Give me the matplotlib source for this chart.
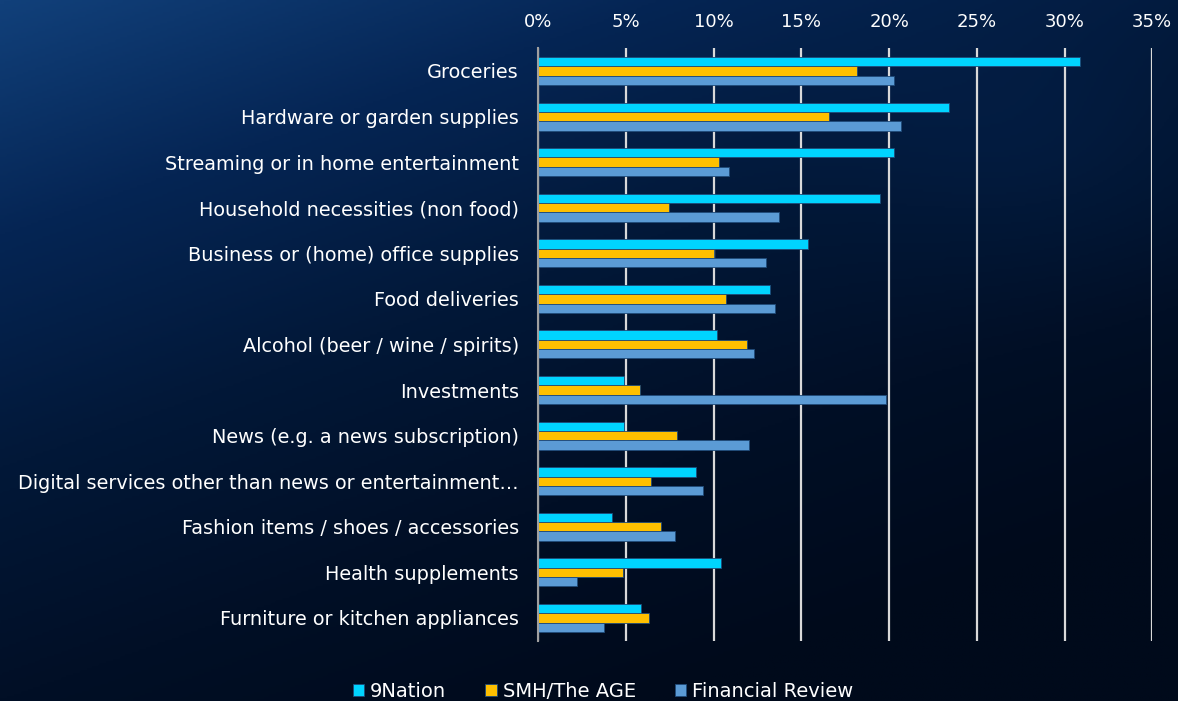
import numpy as np
import matplotlib.pyplot as plt
from matplotlib.colors import LinearSegmentedColormap

# categories, top to bottom
categories = ["Groceries", "Hardware or garden supplies", "Streaming or in home entertainment",
              "Household necessities (non food)", "Business or (home) office supplies",
              "Food deliveries", "Alcohol (beer / wine / spirits)", "Investments",
              "News (e.g. a news subscription)",
              "Digital services other than news or entertainment\u2026",
              "Fashion items / shoes / accessories", "Health supplements",
              "Furniture or kitchen appliances"]

# share of respondents, %
nation9 = [30.9, 23.4, 20.3, 19.5, 15.4, 13.2, 10.2, 4.9, 4.9, 9.0, 4.2, 10.4, 5.85]
smh_age = [18.15, 16.6, 10.3, 7.45, 10.0, 10.7, 11.9, 5.8, 7.9, 6.4, 7.0, 4.8, 6.3]
fin_review = [20.3, 20.7, 10.85, 13.7, 13.0, 13.5, 12.3, 19.8, 12.0, 9.4, 7.8, 2.2, 3.75]

series_names = ["9Nation", "SMH/The AGE", "Financial Review"]
colors = ["#00D4FF", "#FFC000", "#5B9BD5"]
xticks = [0, 5, 10, 15, 20, 25, 30, 35]

plt.rcParams['font.family'] = ['DejaVu Sans']

fig = plt.figure(figsize=(11.78, 7.01), dpi=100)

# background gradient
bg = fig.add_axes([0, 0, 1, 1])
yy, xx = np.mgrid[0:1:300j, 0:1:500j]
g = np.clip(0.75 * yy + 0.45 * xx - 0.12 * np.exp(-((xx - 0.9) ** 2 + (yy - 0.25) ** 2) / 0.03), 0, 1)
cmap = LinearSegmentedColormap.from_list("bg", ["#11407a", "#052554", "#021838", "#010f26", "#000a1b"])
bg.imshow(g, cmap=cmap, aspect='auto', extent=[0, 1, 0, 1], origin='upper')
bg.axis('off')

ax = fig.add_axes([0.457, 0.0859, 0.5211, 0.8454])
ax.patch.set_alpha(0)

y = np.arange(len(categories))
h = 0.205
for i, (vals, name, c) in enumerate(zip([nation9, smh_age, fin_review], series_names, colors)):
    ax.barh(y + (i - 1) * h, vals, height=h, color=c, edgecolor="#1f4a78", linewidth=0.6,
            label=name, zorder=3)

ax.set_ylim(len(categories) - 0.5, -0.5)
ax.set_xlim(0, 35)
ax.set_yticks(y)
ax.set_yticklabels(categories, fontsize=13.9, color="white")
ax.set_xticks(xticks)
ax.set_xticklabels([f"{t}%" for t in xticks], fontsize=13, color="white")
ax.xaxis.tick_top()
ax.tick_params(axis='x', length=0, pad=12)
ax.tick_params(axis='y', length=0, pad=14)
ax.grid(axis='x', color="#d9d9d9", linewidth=1.6, zorder=1)
for s in ['top', 'right', 'bottom']:
    ax.spines[s].set_visible(False)
ax.spines['left'].set_color("#a0a0a0")
ax.spines['left'].set_linewidth(1.5)
ax.spines['left'].set_zorder(4)

leg = fig.legend(loc='center', bbox_to_anchor=(0.512, 0.014), ncol=3, frameon=False,
                 fontsize=14, handlelength=0.6, handleheight=0.6, handletextpad=0.3,
                 columnspacing=2.0)
for t in leg.get_texts():
    t.set_color("white")

fig.savefig("out.png", dpi=100)
